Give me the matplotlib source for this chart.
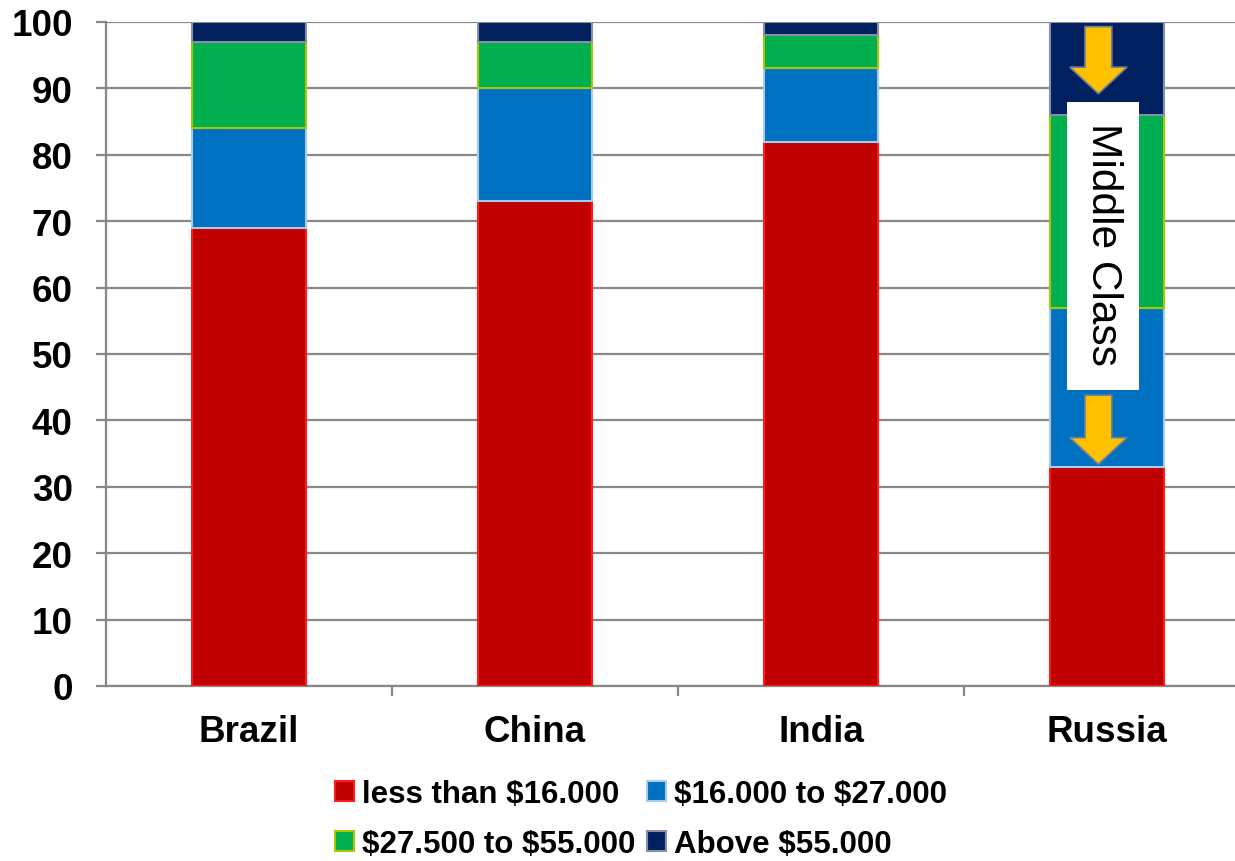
import matplotlib
matplotlib.use("Agg")
import matplotlib.pyplot as plt
from matplotlib.patches import FancyArrow, Rectangle, Patch
import numpy as np

countries = ["Brazil", "China", "India", "Russia"]
series_names = ["less than $16.000", "$16.000 to $27.000",
                "$27.500 to $55.000", "Above $55.000"]
less_16k = [69, 73, 82, 33]
from_16k_to_27k = [15, 17, 11, 24]
from_27k_to_55k = [13, 7, 5, 29]
above_55k = [3, 3, 2, 14]
yticks = [0, 10, 20, 30, 40, 50, 60, 70, 80, 90, 100]

series = [less_16k, from_16k_to_27k, from_27k_to_55k, above_55k]
face_colors = ["#C00000", "#0070C0", "#00B050", "#002060"]
edge_colors = ["#FF1A1A", "#A9CBE8", "#A8C800", "#8A8FA8"]

plt.rcParams['font.family'] = ['Liberation Sans', 'DejaVu Sans']
plt.rcParams['text.parse_math'] = False

fig = plt.figure(figsize=(12.35, 8.62), dpi=100)
ax = fig.add_axes([106/1235, 1-687/862, 1144/1235, 664/862])

x = np.arange(len(countries))
bottom = np.zeros(len(countries))
for vals, fc, ec, name in zip(series, face_colors, edge_colors, series_names):
    ax.bar(x, vals, width=0.40, bottom=bottom, color=fc, edgecolor=ec,
           linewidth=1.5, zorder=3, label=name)
    bottom += np.array(vals)

ax.set_xlim(-0.5, len(countries) - 0.5)
ax.set_ylim(0, 100)
ax.set_yticks(yticks)
ax.yaxis.grid(True, color="#888888", linewidth=1.6, zorder=0)
ax.set_axisbelow(True)

for s in ["top", "right"]:
    ax.spines[s].set_visible(False)
for s in ["left", "bottom"]:
    ax.spines[s].set_color("#888888")
    ax.spines[s].set_linewidth(1.6)

ax.set_xticks(x)
ax.set_xticklabels(countries, fontsize=26.5, fontweight="bold")
ax.set_xticks(np.arange(0.5, len(countries) - 0.5, 1.0), minor=True)
ax.tick_params(axis="x", which="major", length=0, pad=20)
ax.tick_params(axis="x", which="minor", length=7, width=1.6, color="#888888", direction="out")
ax.tick_params(axis="y", length=7, width=1.6, color="#888888", direction="out", pad=17,
               labelsize=26.5)
for lbl in ax.get_yticklabels():
    lbl.set_fontweight("bold")

# Middle Class annotation
rus = countries.index("Russia")
ax.add_patch(Rectangle((rus - 0.14, 44.6), 0.252, 43.35, facecolor="white",
                       edgecolor="none", zorder=5))
ax.text(rus - 0.014, 66.6, "Middle Class", rotation=-90, fontsize=30.5,
        ha="center", va="center", zorder=6)
arrow_kw = dict(width=0.094, head_width=0.20, head_length=4.0,
                length_includes_head=True, facecolor="#FFC000",
                edgecolor="#6F8090", linewidth=1.2, zorder=6)
ax.add_patch(FancyArrow(rus - 0.03, 99.3, 0, -10.1, **arrow_kw))
ax.add_patch(FancyArrow(rus - 0.03, 43.8, 0, -10.4, **arrow_kw))

# Legend: row 1 -> first two series, row 2 -> last two
handles = [Patch(facecolor=fc, edgecolor=ec, linewidth=1.5)
           for fc, ec in zip(face_colors, edge_colors)]
order = [0, 2, 1, 3]
leg = fig.legend([handles[i] for i in order], [series_names[i] for i in order],
                 ncol=2, loc="center", bbox_to_anchor=(641/1235, 1-820/862),
                 frameon=False, handlelength=0.6, handleheight=0.6,
                 handletextpad=0.25, columnspacing=0.4, labelspacing=0.62,
                 prop=dict(size=22.5, weight="bold"))

fig.savefig("out.png", dpi=100)
